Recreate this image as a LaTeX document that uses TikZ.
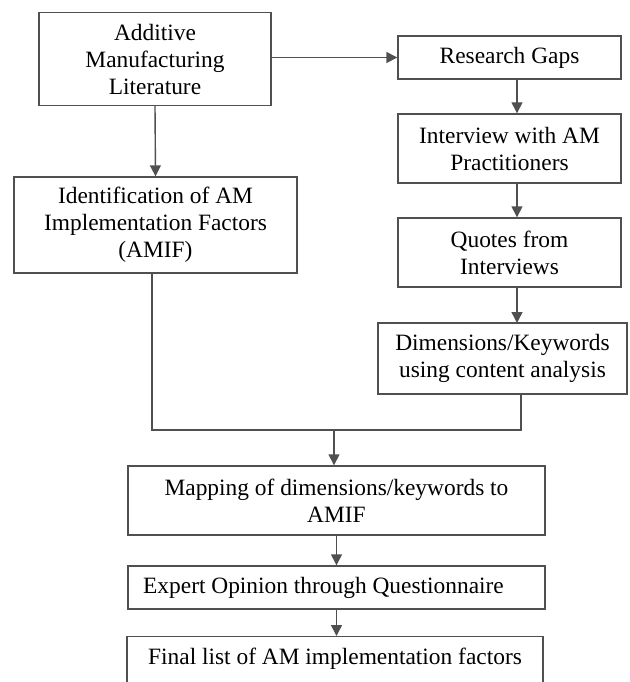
\documentclass[tikz,border=0pt]{standalone}
\usepackage{fontspec}
\setmainfont{Liberation Serif}
\usetikzlibrary{arrows.meta}
\definecolor{linegray}{HTML}{505050}
\begin{document}
\begin{tikzpicture}[x=1pt,y=-1pt,
  box/.style={draw=linegray, line width=1.4pt, rectangle, inner sep=0pt,
    align=center, text=black, font=\fontsize{23.4}{27}\selectfont},
  flow/.style={draw=linegray, line width=1.4pt,
    -{Triangle[length=11pt,width=11pt]}},
  link/.style={draw=linegray, line width=1.4pt}]
\useasboundingbox (0,0) rectangle (629,682);
\begin{scope}
\clip (0,0) rectangle (629,682);
% left column
\node[box, minimum width=232pt, minimum height=93pt] (lit) at (155,59)
  {Additive\\Manufacturing\\Literature};
\node[box, minimum width=283pt, minimum height=96pt] (amif) at (155.5,225)
  {Identification of AM\\Implementation Factors\\(AMIF)};
% right column
\node[box, minimum width=223pt, minimum height=43pt] (gaps) at (509.5,57.5)
  {Research Gaps};
\node[box, minimum width=223pt, minimum height=69pt] (intv) at (509.5,148.5)
  {Interview with AM\\Practitioners};
\node[box, minimum width=223pt, minimum height=69pt] (quot) at (509.5,252.5)
  {Quotes from\\Interviews};
\node[box, minimum width=249pt, minimum height=71pt] (dims) at (502.5,358.5)
  {Dimensions/Keywords\\using content analysis};
% lower column
\node[box, minimum width=417pt, minimum height=69pt] (map) at (336.5,500.5)
  {Mapping of dimensions/keywords to\\AMIF};
\node[box, minimum width=417pt, minimum height=43pt] (exp) at (336.5,587.5)
  {Expert Opinion through Questionnaire\hspace*{26pt}};
\node[box, minimum width=416pt, minimum height=62pt, anchor=north] (fin) at (335,636)
  {\raisebox{22pt}{Final list of AM implementation factors}};
\coordinate (join) at (334,430);
% connectors
\draw[flow] (lit.south) -- (amif.north);
\draw[flow] (lit.east |- gaps.west) -- (gaps.west);
\draw[flow] ([xshift=7.5pt]gaps.south) -- ([xshift=7.5pt]intv.north);
\draw[flow] ([xshift=7.5pt]intv.south) -- ([xshift=7.5pt]quot.north);
\draw[flow] ([xshift=7.5pt]quot.south) -- (517,323);
\draw[link] (152,273) |- (join) -| (521,394);
\draw[flow] (join) -- (join |- map.north);
\draw[flow] (map.south) -- (exp.north);
\draw[flow] (exp.south) -- (exp.south |- fin.north);
\end{scope}
\end{tikzpicture}
\end{document}
